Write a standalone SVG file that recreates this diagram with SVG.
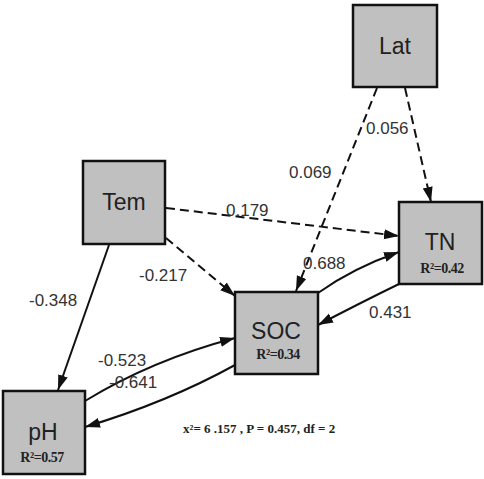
<svg xmlns="http://www.w3.org/2000/svg" width="484" height="479" viewBox="0 0 484 479">
<style>
.box{fill:#c0c0c0;stroke:#111;stroke-width:2.5}
.nt{font-family:"Liberation Sans",Arial,sans-serif;font-size:23px;fill:#222;text-anchor:middle}
.r2{font-family:"Liberation Serif","Times New Roman",serif;font-size:14px;font-weight:bold;fill:#222;text-anchor:middle;letter-spacing:-0.5px}
.lb{font-family:"Liberation Sans",Arial,sans-serif;font-size:17px;fill:#333}
.e{fill:none;stroke:#111;stroke-width:2}
.d{stroke-dasharray:9,5}
.st{font-family:"Liberation Serif","Times New Roman",serif;font-size:13px;font-weight:bold;fill:#222}
</style>
<defs>
<marker id="ah" markerUnits="userSpaceOnUse" markerWidth="16" markerHeight="12" refX="15" refY="5" orient="auto" viewBox="0 0 16 10">
<path d="M0,0 L15,5 L0,10 z" fill="#111"/>
</marker>
</defs>
<rect width="484" height="479" fill="#fff"/>
<g id="connectors">
<line class="e d" x1="405" y1="88" x2="431" y2="202" marker-end="url(#ah)"/>
<line class="e d" x1="377" y1="88" x2="296" y2="291" marker-end="url(#ah)"/>
<line class="e d" x1="166" y1="208" x2="399" y2="236" marker-end="url(#ah)"/>
<line class="e d" x1="166" y1="238" x2="235" y2="296" marker-end="url(#ah)"/>
<line class="e" x1="109" y1="245" x2="58" y2="390" marker-end="url(#ah)"/>
<path class="e" d="M318,293 Q353,268 399,252" marker-end="url(#ah)"/>
<path class="e" d="M399,284 Q362,302 318,325" marker-end="url(#ah)"/>
<path class="e" d="M85,401 Q152,360 235,338" marker-end="url(#ah)"/>
<path class="e" d="M235,365 Q168,402 85,427" marker-end="url(#ah)"/>
</g>
<g id="labels">
<text class="lb" x="366" y="134">0.056</text>
<text class="lb" x="289" y="178">0.069</text>
<text class="lb" x="226" y="216">0.179</text>
<text class="lb" x="139" y="281">-0.217</text>
<text class="lb" x="29" y="306">-0.348</text>
<text class="lb" x="303" y="269">0.688</text>
<text class="lb" x="369" y="318">0.431</text>
<text class="lb" x="98" y="366">-0.523</text>
<text class="lb" x="109" y="388">-0.641</text>
<text class="st" x="183" y="433">x²= 6 .157 , P = 0.457, df = 2</text>
</g>
<g id="Lat">
<rect class="box" x="353" y="5" width="84" height="82"/>
<text class="nt" x="395" y="54">Lat</text>
</g>
<g id="Tem">
<rect class="box" x="83" y="161" width="82" height="83"/>
<text class="nt" x="124" y="210">Tem</text>
</g>
<g id="TN">
<rect class="box" x="399" y="202" width="83" height="82"/>
<text class="nt" x="440" y="250">TN</text>
<text class="r2" x="442" y="273">R²=0.42</text>
</g>
<g id="SOC">
<rect class="box" x="235" y="292" width="83" height="82"/>
<text class="nt" x="276" y="339">SOC</text>
<text class="r2" x="278" y="359">R²=0.34</text>
</g>
<g id="pH">
<rect class="box" x="3" y="391" width="82" height="83"/>
<text class="nt" x="43" y="440">pH</text>
<text class="r2" x="42" y="462">R²=0.57</text>
</g>
</svg>
